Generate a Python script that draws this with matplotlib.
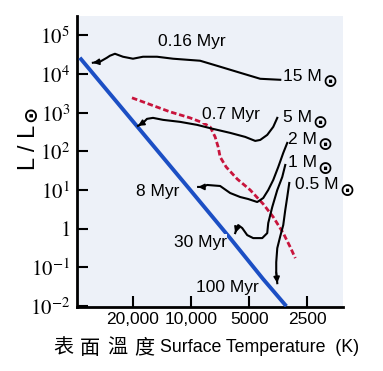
import matplotlib
matplotlib.use('Agg')
import matplotlib.pyplot as plt
import matplotlib.transforms as mtransforms

plt.rcParams['font.family'] = ['Liberation Sans', 'DejaVu Sans']
plt.rcParams['mathtext.fontset'] = 'stix'

# zero-age main sequence (blue)
zams_T = [37700, 16300, 10100, 6280, 4230, 3210]
zams_L = [26300, 175, 10, 0.571, 0.0495, 0.0099]

# birthline (red dashed)
birth_T = [20240, 12850, 10120, 8664, 7968, 7507, 7242, 7071, 6582, 5771,
           4940, 4229, 3753, 3331, 3064, 2885]
birth_L = [2418, 1049, 733, 544, 429, 236, 130, 71.6, 39.4, 19.3,
           10, 4.34, 2.00, 0.769, 0.334, 0.173]

# pre-main-sequence tracks, from birthline end towards the ZAMS
track_15_T = [3451, 4384, 5568, 7071, 8980, 10490, 12400, 15010, 17750, 20000,
              22540, 24800, 26330, 27290, 29670, 32270]
track_15_L = [7070, 7510, 10740, 15400, 22000, 23300, 24800, 27900, 27900, 24800,
              27900, 33300, 29600, 26300, 20700, 19500]

track_5_T = [3577, 3753, 4032, 4384, 4653, 5244, 6275, 7690, 9307, 11400,
             13970, 15750, 16920, 17750, 18840]
track_5_L = [733, 429, 266, 197, 186, 236, 300, 380, 483, 578,
             651, 733, 691, 544, 455]

track_2_T = [3176, 3331, 3535, 3753, 3984, 4229, 4543, 5060, 5568, 6275,
             7071, 8260, 8664, 9196]
track_2_L = [165, 90.9, 39.4, 18.2, 10, 6.21, 4.89, 5.85, 6.59, 8.36,
             12.7, 13.5, 12.0, 12.0]

track_1_T = [3252, 3371, 3577, 3798, 3984, 4032, 4280, 4767, 5121, 5436,
             5702, 5840, 5910]
track_1_L = [44.4, 21.7, 10, 3.63, 1.40, 0.769, 0.571, 0.571, 0.683, 1.04,
             1.24, 0.920, 0.769]

track_05_T = [3100, 3176, 3252, 3331, 3451, 3577, 3622, 3622, 3577]
track_05_L = [15.2, 6.59, 3.03, 1.24, 0.643, 0.314, 0.136, 0.0751, 0.039]

tracks = [(track_15_T, track_15_L), (track_5_T, track_5_L), (track_2_T, track_2_L),
          (track_1_T, track_1_L), (track_05_T, track_05_L)]

mass_labels = ['15', '5', '2', '1', '0.5']
mass_T = [3331, 3331, 3138, 3138, 2885]
mass_L = [8450, 733, 197, 50, 13.5]

age_labels = ['0.16 Myr', '0.7 Myr', '8 Myr', '30 Myr', '100 Myr']
age_T = [9880, 6200, 14840, 8980, 6505]
age_L = [68200, 877, 9.42, 0.45, 0.0307]

x_ticks = [20000, 10000, 5000, 2500]
x_ticklabels = ['20,000', '10,000', '5000', '2500']
x_label_shift = [-9.4, 5.0, 0.5, -1.4]   # points, labels sit a bit off their ticks
y_ticks = [1e-2, 1e-1, 1, 1e1, 1e2, 1e3, 1e4, 1e5]
y_ticklabels = [r'$10^{-2}$', r'$10^{-1}$', r'$1$', r'$10^{1}$', r'$10^{2}$',
                r'$10^{3}$', r'$10^{4}$', r'$10^{5}$']

bg = '#edf1f8'
sun_font = dict(family='DejaVu Sans', weight='bold')

fig = plt.figure(figsize=(3.83, 3.71), dpi=100)
ax = fig.add_axes([0.201, 0.173, 0.695, 0.784])
ax.set_facecolor(bg)

ax.set_xscale('log')
ax.set_yscale('log')

ax.plot(zams_T, zams_L, c='#1c4fc4', lw=2.8, solid_capstyle='butt', zorder=3)
ax.plot(birth_T, birth_L, c='#c8143c', lw=2.0, ls=(0, (2.0, 1.0)), zorder=2)

for T, L in tracks:
    ax.plot(T, L, c='k', lw=1.5, zorder=4)
    ax.annotate('', xy=(T[-1], L[-1]), xytext=(T[-2], L[-2]),
                arrowprops=dict(arrowstyle='-|>', color='k', lw=1.2,
                                mutation_scale=9, shrinkA=0, shrinkB=0),
                zorder=4)

for lab, T, L in zip(mass_labels, mass_T, mass_L):
    t = ax.text(T, L, lab + ' M', fontsize=12.5, ha='left', va='center')
    ax.annotate('\u2299', xy=(1, 0.5), xycoords=t, xytext=(0.3, -4),
                textcoords='offset points', fontsize=13, ha='left', va='center',
                **sun_font)

for lab, T, L in zip(age_labels, age_T, age_L):
    ax.text(T, L, lab, fontsize=12.5, ha='center', va='center',
            bbox=dict(fc=bg, ec='none', pad=0.3))

ax.set_xlim(39000, 1630)
ax.set_ylim(10**-2.02, 10**5.5)

ax.set_xticks(x_ticks)
ax.set_xticklabels(x_ticklabels, fontsize=12.5)
ax.xaxis.set_minor_locator(matplotlib.ticker.NullLocator())
for lbl, dx in zip(ax.get_xticklabels(), x_label_shift):
    lbl.set_transform(lbl.get_transform() +
                      mtransforms.ScaledTranslation(dx / 72., 0, fig.dpi_scale_trans))
ax.set_yticks(y_ticks)
ax.set_yticklabels(y_ticklabels, fontsize=15)
ax.yaxis.set_minor_locator(matplotlib.ticker.NullLocator())

ax.tick_params(direction='in', length=8, width=1.5)
ax.tick_params(axis='x', pad=4)
ax.tick_params(axis='y', pad=5)
for s in ['top', 'right']:
    ax.spines[s].set_visible(False)
for s in ['left', 'bottom']:
    ax.spines[s].set_linewidth(2.0)

# y label: L / L with a sun sign
fig.text(29 / 383, 1 - 147 / 371, 'L / L', fontsize=17, rotation=90,
         ha='center', va='center')
fig.text(31 / 383, 1 - 114 / 371, '\u2299', fontsize=14, rotation=90,
         ha='center', va='center', **sun_font)

# two-language x label
for i, ch in enumerate('表面溫度'):
    fig.text((63 + 27 * i) / 383, 1 - 348 / 371, ch, fontsize=14.5,
             family=['Noto Sans CJK TC', 'DejaVu Sans'], ha='center', va='center')
fig.text(160 / 383, 1 - 348 / 371, 'Surface Temperature  (K)', fontsize=12.8,
         ha='left', va='center')

fig.savefig('out.png', dpi=100)
